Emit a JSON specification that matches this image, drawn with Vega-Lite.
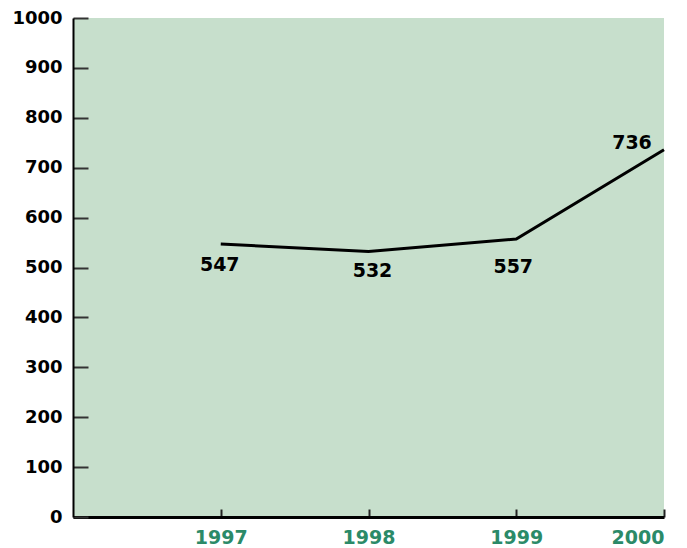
{
  "$schema": "https://vega.github.io/schema/vega-lite/v6.json",
  "width": 591,
  "height": 499,
  "autosize": {"type": "none"},
  "padding": {"left": 73, "top": 18, "right": 23, "bottom": 31},
  "background": "white",
  "config": {"view": {"fill": "#c7dfcc", "stroke": null}},
  "data": {
    "values": [
      {"year": 1997, "value": 547},
      {"year": 1998, "value": 532},
      {"year": 1999, "value": 557},
      {"year": 2000, "value": 736}
    ]
  },
  "encoding": {
    "x": {
      "field": "year",
      "type": "quantitative",
      "scale": {"domain": [1996, 2000], "nice": false, "zero": false},
      "axis": {
        "title": null,
        "grid": false,
        "values": [1997, 1998, 1999, 2000],
        "format": "d",
        "domainColor": "black",
        "domainWidth": 3,
        "tickColor": "#222222",
        "tickWidth": 2,
        "tickSize": -8,
        "labelColor": "#2b8a68",
        "labelFont": "DejaVu Sans",
        "labelFontWeight": "bold",
        "labelFontSize": 19,
        "labelPadding": 19
      }
    },
    "y": {
      "field": "value",
      "type": "quantitative",
      "scale": {"domain": [0, 1000], "nice": false},
      "axis": {
        "title": null,
        "grid": false,
        "values": [0, 100, 200, 300, 400, 500, 600, 700, 800, 900, 1000],
        "format": "d",
        "domainColor": "black",
        "domainWidth": 2,
        "tickColor": "#333333",
        "tickWidth": 2,
        "tickSize": -15,
        "labelColor": "black",
        "labelFont": "DejaVu Sans",
        "labelFontWeight": "bold",
        "labelFontSize": 18,
        "labelPadding": 26
      }
    }
  },
  "layer": [
    {"mark": {"type": "line", "color": "black", "strokeWidth": 3}},
    {
      "transform": [{"filter": "datum.year == 1997"}],
      "mark": {"type": "text", "dx": -1, "dy": 21, "font": "DejaVu Sans", "fontWeight": "bold", "fontSize": 19, "color": "black"},
      "encoding": {"text": {"field": "value", "type": "quantitative"}}
    },
    {
      "transform": [{"filter": "datum.year == 1998"}],
      "mark": {"type": "text", "dx": 4, "dy": 19, "font": "DejaVu Sans", "fontWeight": "bold", "fontSize": 19, "color": "black"},
      "encoding": {"text": {"field": "value", "type": "quantitative"}}
    },
    {
      "transform": [{"filter": "datum.year == 1999"}],
      "mark": {"type": "text", "dx": -3, "dy": 28, "font": "DejaVu Sans", "fontWeight": "bold", "fontSize": 19, "color": "black"},
      "encoding": {"text": {"field": "value", "type": "quantitative"}}
    },
    {
      "transform": [{"filter": "datum.year == 2000"}],
      "mark": {"type": "text", "dx": -32, "dy": -7, "font": "DejaVu Sans", "fontWeight": "bold", "fontSize": 19, "color": "black"},
      "encoding": {"text": {"field": "value", "type": "quantitative"}}
    }
  ]
}
